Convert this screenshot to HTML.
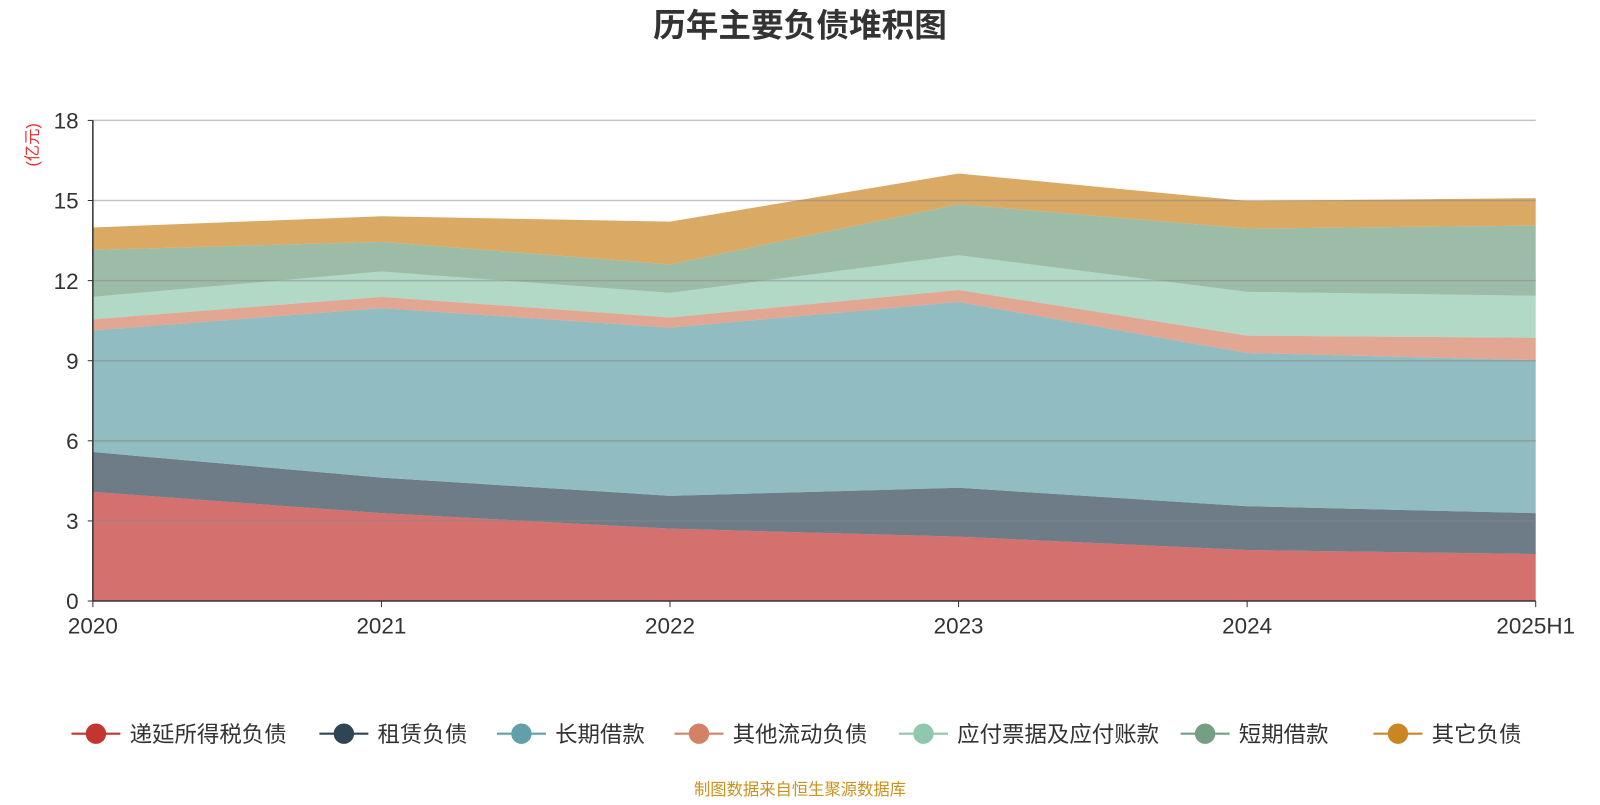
<!DOCTYPE html>
<html><head><meta charset="utf-8"><style>
body{margin:0;background:#fff;width:1600px;height:800px;overflow:hidden;font-family:"Liberation Sans","Noto Sans CJK SC",sans-serif}
</style></head><body>
<svg id="c" width="1600" height="800" viewBox="0 0 1568 784" xmlns="http://www.w3.org/2000/svg">
<text x="784" y="36" text-anchor="middle" font-size="32" font-weight="bold" fill="#333" font-family="Liberation Sans,Noto Sans CJK SC,sans-serif">历年主要负债堆积图</text>
<text transform="translate(37,142) rotate(-90)" text-anchor="middle" font-size="16" fill="#e03030" font-family="Liberation Sans,Noto Sans CJK SC,sans-serif">(亿元)</text>
<text x="784" y="779" text-anchor="middle" font-size="16" fill="#c8921e" font-family="Liberation Sans,Noto Sans CJK SC,sans-serif">制图数据来自恒生聚源数据库</text>
<g id="areas"></g><g id="grid"></g><g id="axes"></g><g id="legend"></g>
</svg>
<script>
const categories=["2020","2021","2022","2023","2024","2025H1"];
const seriesNames=["递延所得税负债","租赁负债","长期借款","其他流动负债","应付票据及应付账款","短期借款","其它负债"];
const s1=[4.09,3.29,2.71,2.41,1.91,1.76];
const s2=[1.49,1.33,1.23,1.83,1.64,1.53];
const s3=[4.55,6.35,6.30,6.96,5.74,5.73];
const s4=[0.42,0.42,0.38,0.45,0.65,0.84];
const s5=[0.84,0.95,0.92,1.30,1.64,1.57];
const s6=[1.76,1.11,1.07,1.91,2.37,2.63];
const s7=[0.84,0.96,1.60,1.15,1.03,1.03];
const yTicks=[0,3,6,9,12,15,18];
const series=[s1,s2,s3,s4,s5,s6,s7];
const lineColors=["#c23531","#2f4554","#61a0a8","#d48265","#91c7ae","#749f83","#ca8622"];
const NS="http://www.w3.org/2000/svg";
const x0=91,x1=1505,yb=589,yt=118,ymax=18;
const X=i=>x0+(x1-x0)*i/(categories.length-1);
const Y=v=>yb-(yb-yt)*v/ymax;
function mk(t,a,p){const e=document.createElementNS(NS,t);for(const k in a)e.setAttribute(k,a[k]);p.appendChild(e);return e;}
const areas=document.getElementById('areas');
let base=categories.map(()=>0);
series.forEach((s,si)=>{
  const top=base.map((b,i)=>b+s[i]);
  let d="M"+top.map((v,i)=>X(i)+","+Y(v)).join(" L");
  for(let i=base.length-1;i>=0;i--)d+=" L"+X(i)+","+Y(base[i]);
  const p=mk('path',{d:d+"Z",fill:lineColors[si],'fill-opacity':0.7,stroke:'none'},areas);
  
  
  base=top;
});
const grid=document.getElementById('grid'),axes=document.getElementById('axes');
yTicks.forEach(t=>{
  if(t>0){const l=mk('line',{x1:x0,x2:x1,y1:Y(t),y2:Y(t),stroke:'#888','stroke-opacity':0.5,'stroke-width':1.5},grid);
  
  }
  const tk=mk('line',{x1:x0-5,x2:x0,y1:Y(t),y2:Y(t),stroke:'#333'},axes);
  
  
  const tx=mk('text',{x:x0-14,y:Y(t)+8,'text-anchor':'end','font-size':22,fill:'#333'},axes);
  tx.textContent=t;
  
  
});
const ya=mk('line',{x1:x0,x2:x0,y1:yt,y2:yb,stroke:'#333','stroke-width':1.5},axes);


const xa=mk('line',{x1:x0,x2:x1,y1:yb,y2:yb,stroke:'#333','stroke-width':1.5},axes);


categories.forEach((c,i)=>{
  const tk=mk('line',{x1:X(i),x2:X(i),y1:yb,y2:yb+6,stroke:'#333'},axes);
  
  
  const tx=mk('text',{x:X(i),y:621,'text-anchor':'middle','font-size':22,fill:'#333'},axes);
  tx.textContent=c;
  
  
});
const lg=document.getElementById('legend');
const lx=[70,313,487,661,881,1157,1346];
seriesNames.forEach((n,i)=>{
  const g=mk('g',{},lg);
  
  
  mk('line',{x1:lx[i],x2:lx[i]+48,y1:719,y2:719,stroke:lineColors[i],'stroke-width':2},g);
  mk('circle',{cx:lx[i]+24,cy:719,r:10,fill:lineColors[i]},g);
  const t=mk('text',{x:lx[i]+57,y:727,'font-size':22,fill:'#333'},g);
  t.textContent=n;
});
</script>
</body></html>
